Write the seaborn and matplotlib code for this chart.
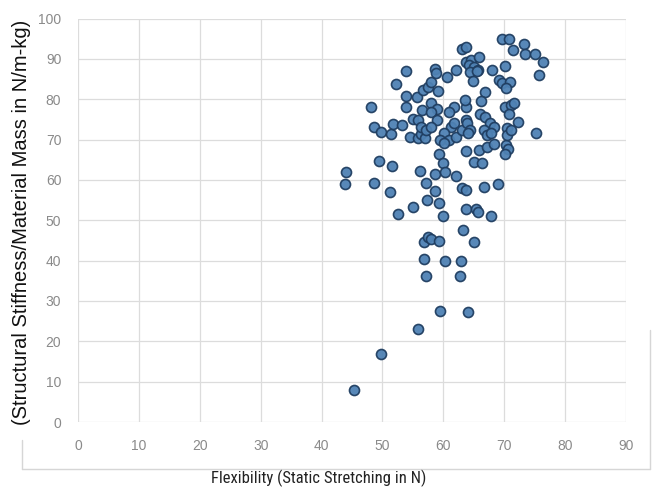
import matplotlib
matplotlib.use("Agg")
import matplotlib.pyplot as plt
import seaborn as sns
import pandas as pd
from matplotlib.lines import Line2D
from matplotlib import font_manager

flexibility = [
    45.4, 49.8, 55.8, 59.5, 64.0, 57.2, 62.7, 56.8, 60.2, 62.9,
    44.0, 43.8, 49.4, 51.6, 48.6, 51.2, 52.6, 55.0, 56.1, 57.1,
    58.6, 58.6, 57.3, 59.3, 59.9, 59.3, 59.9, 60.2, 62.1, 63.0,
    63.8, 63.8, 63.3, 56.8, 57.4, 58.0, 59.3, 63.8, 65.8, 67.1,
    68.3, 70.3, 70.7, 70.2, 65.0, 66.4, 66.6, 69.0, 65.4, 65.7,
    67.8, 65.1,
    48.1, 53.9, 52.3, 48.6, 49.7, 51.4, 51.8, 53.2, 53.9, 53.8,
    55.6, 56.6, 57.4, 57.9, 59.1, 58.6, 58.8, 58.0, 58.9, 60.6,
    62.1, 63.0, 63.7, 63.8, 63.7, 63.8, 61.8, 61.0, 61.2, 60.1,
    60.9, 55.1, 55.8, 56.5, 57.9, 59.0, 54.6, 55.8, 56.3, 57.0,
    56.3, 57.1, 57.9, 59.5, 60.1, 62.0, 63.1, 63.9,
    69.7, 70.8, 71.5, 73.2, 73.4, 75.0, 76.4, 75.7, 64.5, 65.8,
    64.2, 65.0, 65.7, 64.4, 65.5, 64.9, 68.0, 70.1, 69.1, 69.7,
    70.9, 70.3, 66.8, 66.2, 63.5, 61.7, 64.4, 66.1, 66.9, 67.6,
    68.3, 70.2, 71.1, 71.6, 70.8, 72.3, 75.3, 66.6, 67.2, 67.9,
    70.5, 70.5, 71.1, 64.0,
]
stiffness = [
    8.0, 16.8, 23.0, 27.6, 27.3, 36.1, 36.1, 40.5, 40.0, 40.0,
    62.0, 58.9, 64.8, 63.5, 59.3, 57.0, 51.5, 53.4, 62.1, 59.3,
    61.4, 57.3, 55.0, 54.2, 51.1, 66.4, 64.1, 62.0, 61.0, 58.1,
    57.4, 52.7, 47.7, 44.5, 45.9, 45.4, 44.9, 67.2, 67.4, 68.2,
    68.9, 68.6, 67.7, 66.4, 64.5, 64.1, 58.3, 59.1, 52.8, 52.0,
    51.1, 44.6,
    78.1, 87.1, 83.7, 73.0, 71.9, 71.4, 73.9, 73.6, 78.0, 80.8,
    80.5, 82.3, 82.9, 84.3, 82.0, 87.5, 86.4, 79.0, 77.5, 85.4,
    87.2, 92.4, 93.0, 89.3, 78.1, 74.8, 78.0, 76.9, 73.2, 71.5,
    69.9, 75.2, 74.8, 77.3, 76.9, 74.8, 70.7, 70.5, 71.3, 70.3,
    73.2, 72.4, 73.0, 69.9, 69.1, 70.7, 72.4, 74.0,
    94.9, 94.9, 92.2, 93.6, 91.1, 91.1, 89.3, 86.0, 89.7, 90.4,
    88.5, 88.1, 87.2, 86.8, 87.0, 84.4, 87.2, 88.3, 84.8, 83.9,
    84.3, 82.7, 81.9, 79.6, 79.8, 74.0, 72.4, 76.3, 75.7, 74.0,
    73.2, 78.1, 78.6, 79.0, 76.3, 74.4, 71.7, 72.4, 71.1, 71.5,
    72.8, 71.1, 72.4, 71.5,
]
x_ticks = [0, 10, 20, 30, 40, 50, 60, 70, 80, 90]
y_ticks = [0, 10, 20, 30, 40, 50, 60, 70, 80, 90, 100]

df = pd.DataFrame({"flex": flexibility, "stiff": stiffness})

sns.set_theme(style="white")
plt.rcParams['font.family'] = ['Liberation Sans', 'DejaVu Sans']

# pick a condensed face for the x label if one is installed
names = {f.name for f in font_manager.fontManager.ttflist}
narrow = None
for cand in ['Liberation Sans Narrow', 'Arial Narrow', 'DejaVu Sans Condensed',
             'Roboto Condensed', 'Open Sans Condensed']:
    if cand in names:
        narrow = cand
        break

W, H = 656, 495
fig = plt.figure(figsize=(W / 100, H / 100), dpi=100)
ax = fig.add_axes([78 / W, 1 - 422 / H, (626 - 78) / W, (422 - 18.5) / H])

sns.scatterplot(data=df, x="flex", y="stiff", ax=ax, s=52,
                color="#4f82b4", edgecolor="#1f3d60", linewidth=1.2,
                alpha=0.95, zorder=3)

ax.set_xlim(0, 90)
ax.set_ylim(0, 100)
ax.set_xticks(x_ticks)
ax.set_yticks(y_ticks)
ax.set_xticklabels([str(t) for t in x_ticks])
ax.set_yticklabels([str(t) for t in y_ticks])
ax.tick_params(axis='both', length=0, labelsize=10, labelcolor="#8a8a8a")
ax.tick_params(axis='x', pad=12)
ax.tick_params(axis='y', pad=12)
ax.grid(True, color="#dcdcdc", linewidth=0.9)
ax.set_axisbelow(True)
for s in ax.spines.values():
    s.set_visible(False)

ax.set_xlabel("")
ax.set_ylabel("")
if narrow:
    fig.text(319 / W, 1 - 478 / H, "Flexibility (Static Stretching in N)",
             ha="center", va="center", fontsize=12,
             family=[narrow, 'DejaVu Sans'], color="#222222")
else:
    fig.text(319 / W, 1 - 478 / H, "Flexibility (Static Stretching in N)",
             ha="center", va="center", fontsize=9.5,
             family=['Liberation Sans', 'DejaVu Sans'], color="#222222")
fig.text(22 / W, 1 - 222 / H, "(Structural Stiffness/Material Mass in N/m-kg)",
         ha="center", va="center", rotation=90, fontsize=14.5,
         color="#111111")

# faint outer frame of the original chart
fig.add_artist(Line2D([22 / W, 650 / W], [1 - 469 / H, 1 - 469 / H],
                      transform=fig.transFigure, color="#d6d6d6", lw=1))
fig.add_artist(Line2D([22 / W, 22 / W], [1 - 440 / H, 1 - 469 / H],
                      transform=fig.transFigure, color="#d6d6d6", lw=1))
fig.add_artist(Line2D([650 / W, 650 / W], [1 - 330 / H, 1 - 469 / H],
                      transform=fig.transFigure, color="#d6d6d6", lw=1))

fig.savefig("out.png", dpi=100, facecolor="white")
